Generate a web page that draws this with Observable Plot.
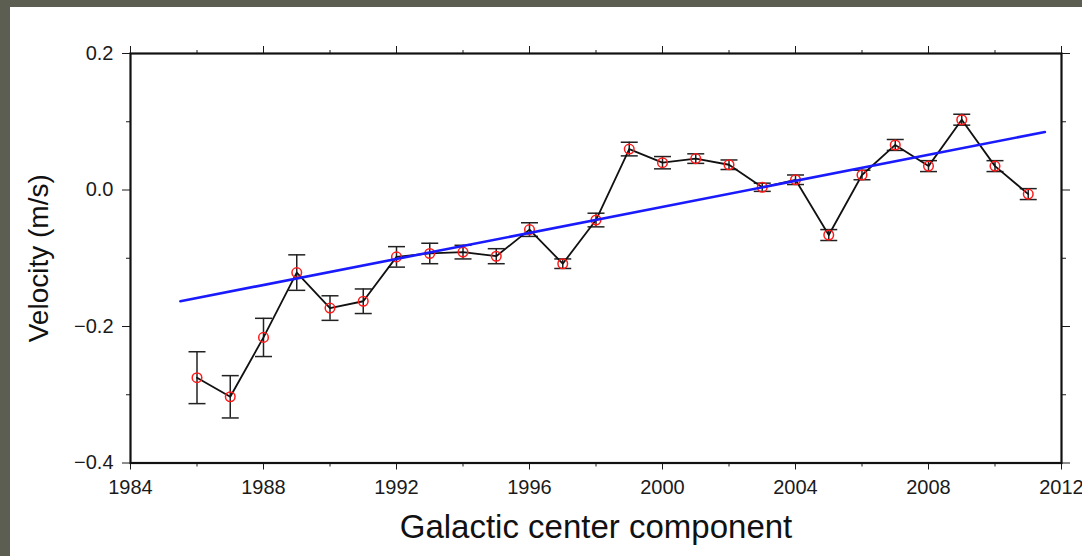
<!DOCTYPE html>
<html>
<head>
<meta charset="utf-8">
<script src="https://cdn.jsdelivr.net/npm/d3@7"></script>
<script src="https://cdn.jsdelivr.net/npm/@observablehq/plot@0.6"></script>
<style>
  html, body { margin: 0; padding: 0; }
  body { width: 1082px; height: 556px; background: #5d5e52; overflow: hidden; position: relative; }
  #chart { position: absolute; left: 10px; top: 7px; width: 1072px; height: 549px; background: #ffffff; }
  #chart svg { display: block; }
</style>
</head>
<body>
<div id="chart"></div>
<script>
// Data
const years = [1986, 1987, 1988, 1989, 1990, 1991, 1992, 1993, 1994, 1995, 1996, 1997, 1998,
               1999, 2000, 2001, 2002, 2003, 2004, 2005, 2006, 2007, 2008, 2009, 2010, 2011];
const velocity = [-0.275, -0.303, -0.216, -0.121, -0.173, -0.163, -0.098, -0.093, -0.091, -0.097,
                  -0.058, -0.108, -0.044, 0.060, 0.040, 0.046, 0.037, 0.004, 0.015, -0.066,
                  0.022, 0.066, 0.035, 0.103, 0.035, -0.006];
const errors = [0.038, 0.031, 0.028, 0.026, 0.018, 0.018, 0.015, 0.015, 0.010, 0.011,
                0.010, 0.007, 0.010, 0.010, 0.009, 0.007, 0.007, 0.006, 0.007, 0.008,
                0.007, 0.008, 0.008, 0.008, 0.008, 0.008];
const fitYears = [1985.5, 2011.5];
const fitVelocity = [-0.163, 0.085];
const xMajorTicks = [1984, 1988, 1992, 1996, 2000, 2004, 2008, 2012];
const xMinorTicks = [1986, 1990, 1994, 1998, 2002, 2006, 2010];
const yMajorTicks = [-0.4, -0.2, 0.0, 0.2];
const yMinorTicks = [-0.3, -0.1, 0.1];
const xTitle = "Galactic center component";
const yTitle = "Velocity (m/s)";

const data = years.map((year, i) => ({year, v: velocity[i], e: errors[i]}));
const fit = fitYears.map((year, i) => ({year, v: fitVelocity[i]}));

const cap = {
  draw(context) {
    context.moveTo(-8.5, 0);
    context.lineTo(8.5, 0);
  }
};

const fmtY = d3.format(".1f");
const blank = () => "";

const chart = Plot.plot({
  width: 1072,
  height: 549,
  marginLeft: 120,
  marginRight: 21,
  marginTop: 46,
  marginBottom: 93.5,
  style: {fontFamily: "'Liberation Sans', Arial, Helvetica, sans-serif", fontSize: "20px", color: "#1a1a1a", background: "#ffffff"},
  x: {domain: [1984, 2012]},
  y: {domain: [-0.4, 0.2]},
  marks: [
    Plot.axisX({anchor: "bottom", ticks: xMajorTicks, tickSize: 7, tickPadding: 10, tickFormat: d => String(d), label: null, fontSize: 20}),
    Plot.axisX({anchor: "bottom", ticks: xMinorTicks, tickSize: 4, tickFormat: blank, label: null}),
    Plot.axisX({anchor: "top", ticks: xMajorTicks, tickSize: 8, tickFormat: blank, label: null}),
    Plot.axisX({anchor: "top", ticks: xMinorTicks, tickSize: 4, tickFormat: blank, label: null}),
    Plot.axisY({anchor: "left", ticks: yMajorTicks, tickSize: 8, tickPadding: 9, tickFormat: fmtY, label: null, fontSize: 20}),
    Plot.axisY({anchor: "left", ticks: yMinorTicks, tickSize: 4, tickFormat: blank, label: null}),
    Plot.axisY({anchor: "right", ticks: yMajorTicks, tickSize: 8, tickFormat: blank, label: null}),
    Plot.axisY({anchor: "right", ticks: yMinorTicks, tickSize: 4, tickFormat: blank, label: null}),
    Plot.frame({stroke: "#111", strokeWidth: 2.2}),
    Plot.ruleX(data, {x: "year", y1: d => d.v - d.e, y2: d => d.v + d.e, stroke: "#222", strokeWidth: 1.5}),
    Plot.dot(data, {x: "year", y: d => d.v - d.e, symbol: cap, stroke: "#222", strokeWidth: 1.5, fill: "none"}),
    Plot.dot(data, {x: "year", y: d => d.v + d.e, symbol: cap, stroke: "#222", strokeWidth: 1.5, fill: "none"}),
    Plot.line(data, {x: "year", y: "v", stroke: "#111", strokeWidth: 1.8}),
    Plot.dot(data, {x: "year", y: "v", r: 4.8, stroke: "#ff1a1a", strokeWidth: 1.5, fill: "none"}),
    Plot.line(fit, {x: "year", y: "v", stroke: "#1a1aff", strokeWidth: 2.6}),
    Plot.text([xTitle], {text: d => d, frameAnchor: "bottom", dy: 75, fontSize: 33, fill: "#111"}),
    Plot.text([yTitle], {text: d => d, frameAnchor: "left", textAnchor: "middle", rotate: -90, dx: -91, fontSize: 28, fill: "#111"})
  ]
});

document.getElementById("chart").appendChild(chart);
</script>
</body>
</html>
